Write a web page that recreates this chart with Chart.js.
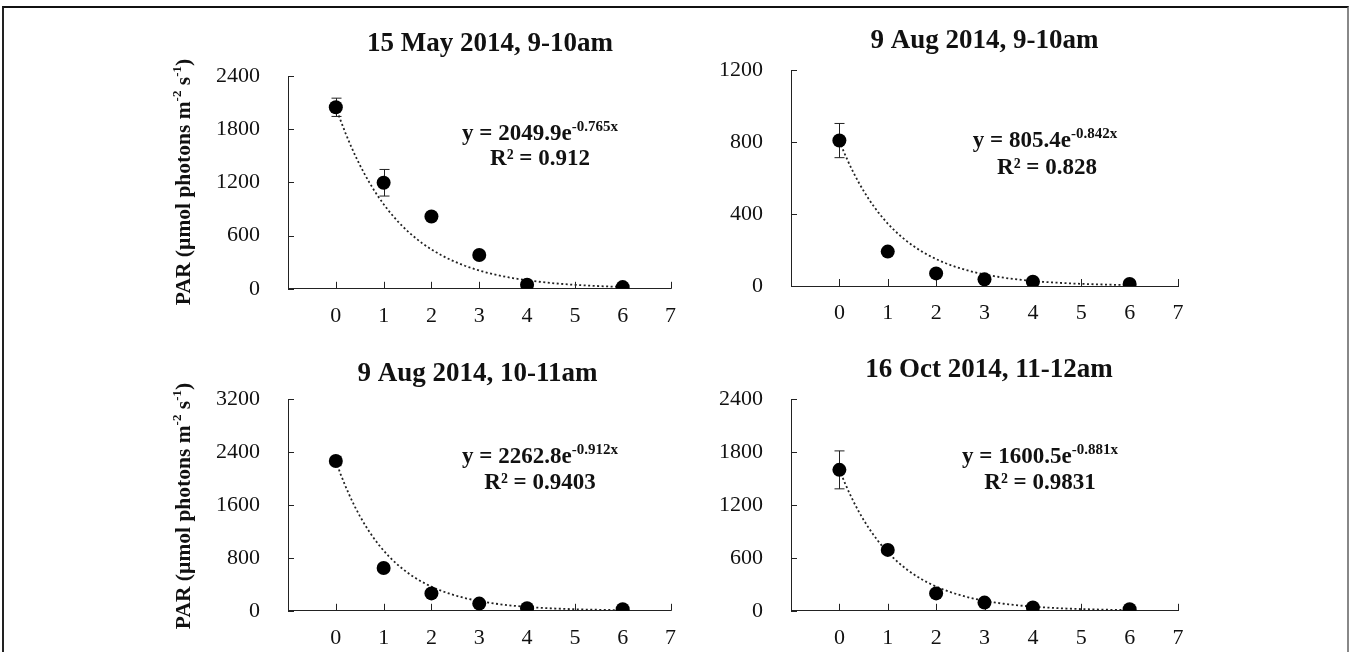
<!DOCTYPE html>
<html><head><meta charset="utf-8">
<script src="https://cdn.jsdelivr.net/npm/chart.js@4.4.1/dist/chart.umd.min.js"></script>
<style>
html,body{margin:0;padding:0;background:#fff;width:1357px;height:652px;overflow:hidden;position:relative}
#frame{position:absolute;left:2px;top:6px;width:1347px;height:680px;border-top:2px solid #111;border-left:2px solid #222;border-right:2px solid #888;box-sizing:border-box}
.pn{position:absolute}
canvas{display:block}
</style></head><body>
<div id="frame"></div>
<div class="pn" style="left:150px;top:8px"><canvas id="c0" width="540" height="322"></canvas></div>
<div class="pn" style="left:690px;top:8px"><canvas id="c1" width="540" height="322"></canvas></div>
<div class="pn" style="left:150px;top:330px"><canvas id="c2" width="540" height="322"></canvas></div>
<div class="pn" style="left:690px;top:330px"><canvas id="c3" width="540" height="322"></canvas></div>
<script>
// ---- data ----
const depthX = [0, 1, 2, 3, 4, 6];
const xTickValues = [0, 1, 2, 3, 4, 5, 6, 7];
const panelTitles = ['15 May 2014, 9-10am', '9 Aug 2014, 9-10am', '9 Aug 2014, 10-11am', '16 Oct 2014, 11-12am'];
const parMay15_0910 = [2047, 1196, 815, 381, 45, 19];
const errMay15_0910 = [103, 150, 0, 0, 0, 0];
const parAug09_0910 = [808, 191, 70, 37, 24, 11];
const errAug09_0910 = [95, 0, 0, 0, 0, 0];
const parAug09_1011 = [2263, 646, 263, 109, 39, 24];
const errAug09_1011 = [70, 0, 0, 0, 0, 0];
const parOct16_1112 = [1597, 690, 197, 93, 37, 18];
const errOct16_1112 = [215, 0, 0, 0, 0, 0];
const fitA = [2049.9, 805.4, 2262.8, 1600.5];
const fitK = [0.765, 0.842, 0.912, 0.881];
const fitEqA = ['2049.9', '805.4', '2262.8', '1600.5'];
const fitEqK = ['-0.765x', '-0.842x', '-0.912x', '-0.881x'];
const r2Text = ['0.912', '0.828', '0.9403', '0.9831'];
const yMax = [2400, 1200, 3200, 2400];
const yStep = [600, 400, 800, 600];
const yTitleText = [['PAR (µmol photons m', 0], ['-2', 1], [' s', 0], ['-1', 1], [')', 0]];

const seriesVals = [parMay15_0910, parAug09_0910, parAug09_1011, parOct16_1112];
const seriesErrs = [errMay15_0910, errAug09_0910, errAug09_1011, errOct16_1112];

// ---- layout (page coords) ----
const LAY = [
  {id:'c0', left:150, top:8, w:540, h:322, area:{l:288, r:677, t:76, b:290}, title:[490, 42], eq:[540, 132], r2:[540, 157.5], yt:[182, 182]},
  {id:'c1', left:690, top:8, w:540, h:322, area:{l:791, r:1178, t:70, b:286}, title:[984.5, 39], eq:[1045, 139], r2:[1047, 166.5]},
  {id:'c2', left:150, top:330, w:540, h:322, area:{l:288, r:677, t:399, b:613}, title:[477.5, 371.5], eq:[540, 455], r2:[540, 481.5], yt:[182, 506]},
  {id:'c3', left:690, top:330, w:540, h:322, area:{l:791, r:1178, t:399, b:613}, title:[989, 368], eq:[1040, 455], r2:[1040, 481.5]}
];
const SERIF = '"Liberation Serif", "Times New Roman", serif';
const X_H = 40;

function trendPts(i) {
  const pts = [];
  for (let k = 0; k <= 60; k++) { const x = k / 10; pts.push({x: x, y: fitA[i] * Math.exp(-fitK[i] * x)}); }
  return pts;
}

function drawSegs(ctx, segs, cx, baseY, bigFont, smallFont, raise) {
  let total = 0;
  const ws = segs.map(s => { ctx.font = s[1] ? smallFont : bigFont; const w = ctx.measureText(s[0]).width; total += w; return w; });
  let x = cx - total / 2;
  segs.forEach((s, j) => { ctx.font = s[1] ? smallFont : bigFont; ctx.fillText(s[0], x, s[1] ? baseY - raise : baseY); x += ws[j]; });
}

const deco = {
  id: 'deco',
  beforeDatasetsDraw(chart) {
    const o = chart.options.plugins.deco;
    const ctx = chart.ctx, xs = chart.scales.x, ys = chart.scales.y;
    ctx.save();
    ctx.strokeStyle = '#222'; ctx.lineWidth = 1;
    // error bars
    o.vals.forEach((v, j) => {
      const e = o.errs[j]; if (!e) return;
      const px = Math.round(xs.getPixelForValue(depthX[j])) + 0.5;
      const y1 = ys.getPixelForValue(v + e), y2 = ys.getPixelForValue(Math.max(0, v - e));
      ctx.beginPath();
      ctx.moveTo(px, y1); ctx.lineTo(px, y2);
      ctx.moveTo(px - 5, y1); ctx.lineTo(px + 5, y1);
      ctx.moveTo(px - 5, y2); ctx.lineTo(px + 5, y2);
      ctx.stroke();
    });
    // inside tick marks
    const ca = chart.chartArea;
    ctx.beginPath();
    xTickValues.forEach(t => { const px = Math.round(xs.getPixelForValue(t)) + 0.5; ctx.moveTo(px, ca.bottom); ctx.lineTo(px, ca.bottom - 7); });
    ys.ticks.forEach(t => { const py = Math.round(ys.getPixelForValue(t.value)) + 0.5; ctx.moveTo(ca.left, py); ctx.lineTo(ca.left + 6, py); });
    ctx.stroke();
    ctx.restore();
  },
  afterDraw(chart) {
    const o = chart.options.plugins.deco;
    const L = o.lay, i = o.idx, ctx = chart.ctx;
    ctx.save();
    ctx.fillStyle = '#111';
    ctx.textBaseline = 'alphabetic'; ctx.textAlign = 'left';
    // title
    drawSegs(ctx, [[panelTitles[i], 0]], L.title[0] - L.left, L.title[1] - L.top + 9, 'bold 27px ' + SERIF, 'bold 27px ' + SERIF, 0);
    // equation
    drawSegs(ctx, [['y = ' + fitEqA[i] + 'e', 0], [fitEqK[i], 1]], L.eq[0] - L.left, L.eq[1] - L.top + 7.5, 'bold 23px ' + SERIF, 'bold 15px ' + SERIF, 9);
    drawSegs(ctx, [['R² = ' + r2Text[i], 0]], L.r2[0] - L.left, L.r2[1] - L.top + 7.5, 'bold 23px ' + SERIF, 'bold 23px ' + SERIF, 0);
    // y axis title
    if (L.yt) {
      ctx.translate(L.yt[0] - L.left, L.yt[1] - L.top);
      ctx.rotate(-Math.PI / 2);
      drawSegs(ctx, yTitleText, 0, 7.5, 'bold 21.5px ' + SERIF, 'bold 13px ' + SERIF, 8.5);
    }
    ctx.restore();
  }
};

LAY.forEach((L, i) => {
  const aL = L.area.l - L.left, aR = L.area.r - L.left, aT = L.area.t - L.top, aB = L.area.b - L.top;
  new Chart(document.getElementById(L.id), {
    type: 'scatter',
    data: {
      datasets: [
        {type: 'scatter', data: depthX.map((x, j) => ({x: x, y: seriesVals[i][j]})), pointRadius: 7, pointHoverRadius: 7,
         backgroundColor: '#000', borderColor: '#000', borderWidth: 0},
        {type: 'line', data: trendPts(i), showLine: true, pointRadius: 0, borderColor: '#222', borderWidth: 1.8,
         borderDash: [2, 2.5], fill: false, tension: 0}
      ]
    },
    options: {
      responsive: false, animation: false, devicePixelRatio: 1,
      layout: {padding: {left: 0, top: aT, right: L.w - aR, bottom: L.h - aB - X_H}},
      plugins: {legend: {display: false}, tooltip: {enabled: false}, title: {display: false},
        deco: {vals: seriesVals[i], errs: seriesErrs[i], lay: L, idx: i}},
      scales: {
        x: {type: 'linear', min: -1, max: 7,
          afterBuildTicks: s => { s.ticks = xTickValues.map(v => ({value: v})); },
          afterFit: s => { s.height = X_H; },
          grid: {display: true, drawOnChartArea: false, drawTicks: false},
          border: {display: true, color: '#222', width: 1},
          ticks: {color: '#111', font: {family: SERIF, size: 22}, padding: 14, maxRotation: 0, autoSkip: false,
            callback: v => String(v)}},
        y: {type: 'linear', min: 0, max: yMax[i],
          afterFit: s => { s.width = aL; },
          grid: {display: true, drawOnChartArea: false, drawTicks: false},
          border: {display: true, color: '#222', width: 1},
          ticks: {stepSize: yStep[i], color: '#111', font: {family: SERIF, size: 22}, padding: 28,
            callback: v => String(v)}}
      }
    },
    plugins: [deco]
  });
});
</script>
</body></html>
